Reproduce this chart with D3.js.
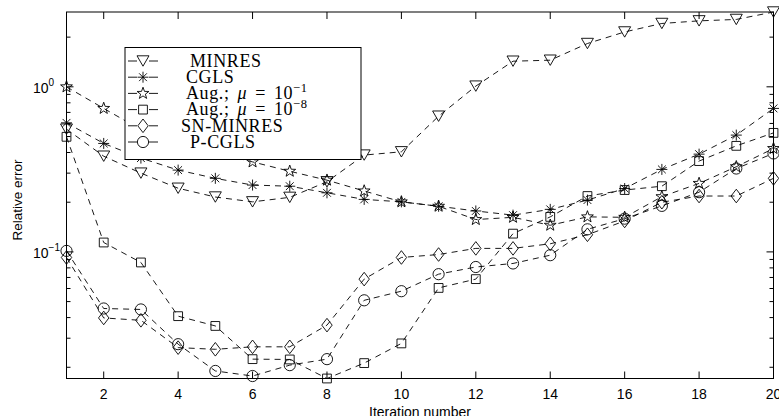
<!DOCTYPE html>
<html>
<head>
<meta charset="utf-8">
<script src="https://cdn.jsdelivr.net/npm/d3@7"></script>
<style>
  html, body { margin: 0; padding: 0; background: #fff; }
  svg { display: block; }
</style>
</head>
<body>
<svg id="chart" width="779" height="416"></svg>
<script>
// ---- data ----
const iterations = [1,2,3,4,5,6,7,8,9,10,11,12,13,14,15,16,17,18,19,20];
const minres   = [0.554,0.38,0.30,0.243,0.215,0.201,0.214,0.266,0.386,0.404,0.664,1.01,1.43,1.45,1.83,2.15,2.42,2.51,2.56,2.84];
const cgls     = [0.605,0.454,0.37,0.313,0.279,0.254,0.25,0.228,0.208,0.201,0.189,0.177,0.167,0.181,0.206,0.242,0.316,0.391,0.51,0.74];
const augMu1   = [1.0,0.74,0.55,0.46,0.40,0.351,0.308,0.272,0.234,0.201,0.189,0.157,0.162,0.145,0.163,0.162,0.216,0.26,0.328,0.423];
const augMu8   = [0.498,0.114,0.0863,0.0408,0.0356,0.0224,0.0223,0.0171,0.0212,0.0279,0.0605,0.0684,0.129,0.163,0.218,0.237,0.25,0.355,0.439,0.526];
const snMinres = [0.0925,0.0398,0.0385,0.0263,0.0257,0.0266,0.0266,0.036,0.0684,0.0925,0.0964,0.105,0.105,0.112,0.127,0.154,0.20,0.218,0.218,0.279];
const pCgls    = [0.1014,0.0454,0.0448,0.0276,0.019,0.0177,0.0206,0.0224,0.0509,0.0578,0.0733,0.081,0.0851,0.0955,0.137,0.159,0.19,0.23,0.32,0.395];
const xTicks = [2,4,6,8,10,12,14,16,18,20];
const yMajorTicks = [0.1, 1];
const yMajorExp = ["\u22121", "0"];

const series = [
  {name: "MINRES", values: minres, marker: "tri"},
  {name: "CGLS", values: cgls, marker: "ast"},
  {name: "aug1", values: augMu1, marker: "star"},
  {name: "aug8", values: augMu8, marker: "sq"},
  {name: "SN-MINRES", values: snMinres, marker: "dia"},
  {name: "P-CGLS", values: pCgls, marker: "circ"}
];

// ---- layout ----
const L = 66.5, R = 773.5, T = 12, B = 378.5;
const svg = d3.select("#chart");

const x = d3.scaleLinear().domain([1, 20]).range([L, R]);
const allVals = series.flatMap(s => s.values);
const y = d3.scaleLog().domain(d3.extent(allVals)).range([B, T]);

function starPath(ro, ri) {
  let p = "";
  for (let i = 0; i < 10; i++) {
    const r = i % 2 === 0 ? ro : ri;
    const a = -Math.PI / 2 + i * Math.PI / 5;
    p += (i === 0 ? "M" : "L") + (r * Math.cos(a)).toFixed(2) + "," + (r * Math.sin(a)).toFixed(2);
  }
  return p + "Z";
}
const markerPaths = {
  tri: "M-6,-5.2L6,-5.2L0,5.2Z",
  ast: "M-5.5,0H5.5M0,-5.5V5.5M-3.9,-3.9L3.9,3.9M-3.9,3.9L3.9,-3.9",
  star: starPath(6.2, 2.5),
  sq: "M-4.4,-4.4H4.4V4.4H-4.4Z",
  dia: "M0,-6.8L5.2,0L0,6.8L-5.2,0Z",
  circ: "M5.6,0A5.6,5.6 0 1 1 -5.6,0A5.6,5.6 0 1 1 5.6,0Z"
};

const plot = svg.append("g");
const line = d3.line().x((d, i) => x(iterations[i])).y(d => y(d));

series.forEach(s => {
  plot.append("path")
    .attr("d", line(s.values))
    .attr("fill", "none")
    .attr("stroke", "#000")
    .attr("stroke-width", 0.9)
    .attr("stroke-dasharray", "6,5");
  plot.selectAll(null).data(s.values).enter().append("path")
    .attr("d", markerPaths[s.marker])
    .attr("transform", (d, i) => `translate(${x(iterations[i])},${y(d)})`)
    .attr("fill", "none")
    .attr("stroke", "#000")
    .attr("stroke-width", 0.9);
});

// ---- axes box and ticks ----
const axes = svg.append("g").attr("stroke", "#000").attr("stroke-width", 1);
axes.append("rect").attr("x", L).attr("y", T).attr("width", R - L).attr("height", B - T)
  .attr("fill", "none");

const majorLen = 7, minorLen = 4;
xTicks.forEach(t => {
  axes.append("line").attr("x1", x(t)).attr("x2", x(t)).attr("y1", B).attr("y2", B - majorLen);
  axes.append("line").attr("x1", x(t)).attr("x2", x(t)).attr("y1", T).attr("y2", T + majorLen);
});
const [ymin, ymax] = y.domain();
const minorTicks = [];
for (let e = -3; e <= 1; e++) {
  for (let m = 2; m <= 9; m++) {
    const v = m * Math.pow(10, e);
    if (v >= ymin && v <= ymax) minorTicks.push(v);
  }
}
minorTicks.forEach(v => {
  axes.append("line").attr("x1", L).attr("x2", L + minorLen).attr("y1", y(v)).attr("y2", y(v));
  axes.append("line").attr("x1", R).attr("x2", R - minorLen).attr("y1", y(v)).attr("y2", y(v));
});
yMajorTicks.forEach(v => {
  axes.append("line").attr("x1", L).attr("x2", L + majorLen).attr("y1", y(v)).attr("y2", y(v));
  axes.append("line").attr("x1", R).attr("x2", R - majorLen).attr("y1", y(v)).attr("y2", y(v));
});

// ---- tick labels ----
const sans = "'Liberation Sans', Arial, Helvetica, sans-serif";
svg.append("g").selectAll("text").data(xTicks).enter().append("text")
  .attr("x", d => x(d)).attr("y", 398.5)
  .attr("text-anchor", "middle")
  .attr("font-family", sans).attr("font-size", 14)
  .text(d => d);

yMajorTicks.forEach((v, i) => {
  const t = svg.append("text")
    .attr("x", 33).attr("y", y(v) + 6.5)
    .attr("font-family", sans).attr("font-size", 14);
  t.append("tspan").text("10");
  t.append("tspan").attr("dy", -7).attr("font-size", 10).text(yMajorExp[i]);
});

svg.append("text")
  .attr("transform", `translate(22,200) rotate(-90)`)
  .attr("text-anchor", "middle")
  .attr("font-family", sans).attr("font-size", 13.5)
  .text("Relative error");

svg.append("text")
  .attr("x", (L + R) / 2).attr("y", 417)
  .attr("text-anchor", "middle")
  .attr("font-family", sans).attr("font-size", 14)
  .text("Iteration number");

// ---- legend ----
const serif = "'Liberation Serif', 'DejaVu Serif', serif";
const lg = svg.append("g");
const lgX = 125, lgY = 47.5, lgW = 236, lgH = 112;
lg.append("rect").attr("x", lgX).attr("y", lgY).attr("width", lgW).attr("height", lgH)
  .attr("fill", "#fff").attr("stroke", "#000").attr("stroke-width", 1);
const textX = [190, 186, 186, 186, 181, 190];
series.forEach((s, i) => {
  const cy = 61 + i * 16.2;
  lg.append("line").attr("x1", 128).attr("x2", 137).attr("y1", cy).attr("y2", cy)
    .attr("stroke", "#000").attr("stroke-width", 0.9);
  lg.append("line").attr("x1", 149).attr("x2", 158).attr("y1", cy).attr("y2", cy)
    .attr("stroke", "#000").attr("stroke-width", 0.9);
  lg.append("path").attr("d", markerPaths[s.marker])
    .attr("transform", `translate(143,${cy})`)
    .attr("fill", "none").attr("stroke", "#000").attr("stroke-width", 0.9);
  const t = lg.append("text").attr("x", textX[i]).attr("y", cy + 5.8)
    .attr("font-family", serif).attr("font-size", 18)
    .attr("letter-spacing", 0.6);
  if (s.name === "aug1" || s.name === "aug8") {
    t.append("tspan").text("Aug.;");
    t.append("tspan").attr("dx", 8).attr("font-style", "italic").text("\u03bc");
    t.append("tspan").attr("dx", 8).text("=");
    t.append("tspan").attr("dx", 8).text("10");
    t.append("tspan").attr("dy", -7.5).attr("font-size", 12.5).text(s.name === "aug1" ? "\u22121" : "\u22128");
  } else {
    t.text(s.name);
  }
});
</script>
</body>
</html>
